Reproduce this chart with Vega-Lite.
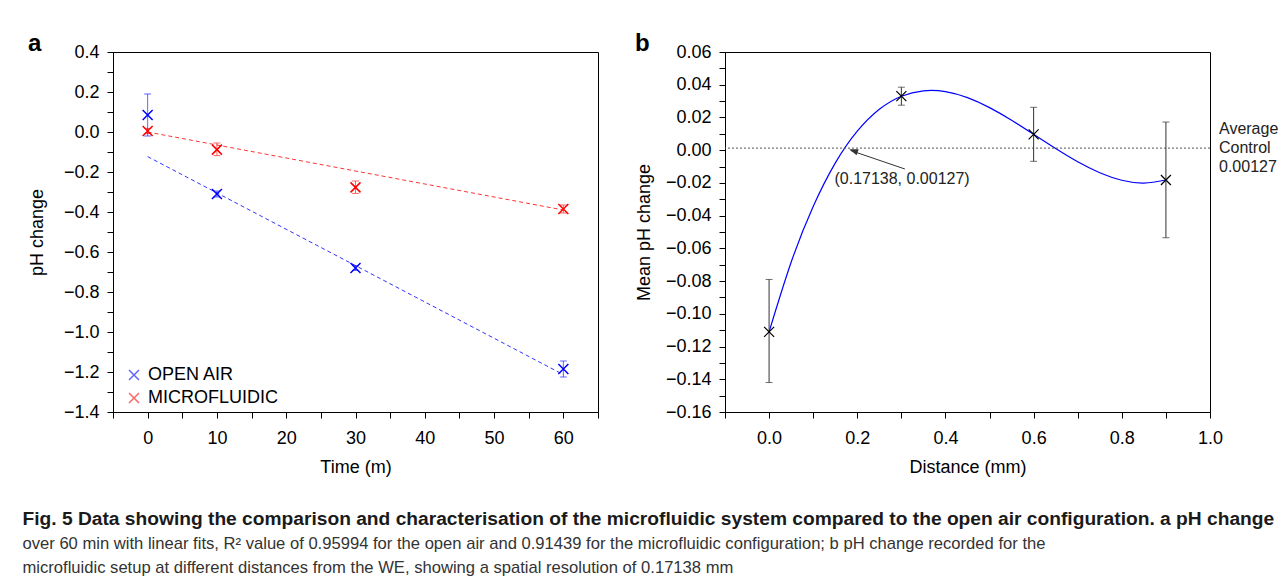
{
  "$schema": "https://vega.github.io/schema/vega-lite/v6.json",
  "padding": {"left": 22, "top": 31, "right": 0, "bottom": 0},
  "autosize": {"type": "pad"},
  "background": "white",
  "config": {
    "font": "Liberation Sans",
    "view": {"stroke": "black", "strokeWidth": 1},
    "axis": {
      "grid": false, "domainColor": "black", "tickColor": "black", "labelColor": "black", "titleColor": "black",
      "labelFont": "Liberation Sans", "titleFont": "Liberation Sans", "labelFontSize": 18, "titleFontSize": 18,
      "titleFontWeight": "normal", "tickSize": 6, "domainWidth": 1, "tickWidth": 1, "labelOverlap": false, "labelFlush": false, "tickCount": 100
    },
    "axisX": {"labelPadding": 11, "titlePadding": 11},
    "axisY": {"labelPadding": 8, "titlePadding": 12}
  },
  "title": {
    "text": "Fig. 5 Data showing the comparison and characterisation of the microfluidic system compared to the open air configuration. a pH change",
    "subtitle": [
      "over 60 min with linear fits, R² value of 0.95994 for the open air and 0.91439 for the microfluidic configuration; b pH change recorded for the",
      "microfluidic setup at different distances from the WE, showing a spatial resolution of 0.17138 mm"
    ],
    "orient": "bottom", "anchor": "start", "frame": "bounds", "offset": 33, "dx": -5,
    "font": "Liberation Sans", "fontSize": 19.2, "fontWeight": "bold", "color": "#1a1a1a", "lineHeight": 24,
    "subtitleFont": "Liberation Sans", "subtitleFontSize": 16.6, "subtitleFontWeight": "normal", "subtitleColor": "#333", "subtitleLineHeight": 24.5, "subtitlePadding": 7
  },
  "datasets": {
    "phTime": [
      {"series": "OPEN AIR", "t": 0, "ph": 0.085, "lo": -0.02, "hi": 0.19},
      {"series": "OPEN AIR", "t": 10, "ph": -0.31, "lo": -0.325, "hi": -0.295},
      {"series": "OPEN AIR", "t": 30, "ph": -0.68, "lo": -0.692, "hi": -0.668},
      {"series": "OPEN AIR", "t": 60, "ph": -1.185, "lo": -1.225, "hi": -1.145},
      {"series": "MICROFLUIDIC", "t": 0, "ph": 0.005, "lo": -0.008, "hi": 0.018},
      {"series": "MICROFLUIDIC", "t": 10, "ph": -0.088, "lo": -0.118, "hi": -0.055},
      {"series": "MICROFLUIDIC", "t": 30, "ph": -0.277, "lo": -0.307, "hi": -0.245},
      {"series": "MICROFLUIDIC", "t": 60, "ph": -0.385, "lo": -0.405, "hi": -0.365}
    ],
    "fitA": [
      {"series": "OPEN AIR", "t": 0, "ph": -0.123},
      {"series": "OPEN AIR", "t": 60, "ph": -1.213},
      {"series": "MICROFLUIDIC", "t": 0, "ph": 0.0},
      {"series": "MICROFLUIDIC", "t": 60, "ph": -0.39}
    ],
    "dist": [
      {"d": 0.0, "v": -0.111, "lo": -0.142, "hi": -0.079},
      {"d": 0.3, "v": 0.033, "lo": 0.0275, "hi": 0.0385},
      {"d": 0.6, "v": 0.0097, "lo": -0.0068, "hi": 0.0262},
      {"d": 0.9, "v": -0.0182, "lo": -0.0535, "hi": 0.0172}
    ],
    "curve": [
      {"d": 0.0, "v": -0.111},
      {"d": 0.05, "v": -0.0685},
      {"d": 0.1, "v": -0.0344},
      {"d": 0.15, "v": -0.0079},
      {"d": 0.2, "v": 0.0116},
      {"d": 0.25, "v": 0.025},
      {"d": 0.3, "v": 0.033},
      {"d": 0.35, "v": 0.0363},
      {"d": 0.4, "v": 0.0358},
      {"d": 0.45, "v": 0.0321},
      {"d": 0.5, "v": 0.026},
      {"d": 0.55, "v": 0.0183},
      {"d": 0.6, "v": 0.0097},
      {"d": 0.65, "v": 0.001},
      {"d": 0.7, "v": -0.0071},
      {"d": 0.75, "v": -0.0138},
      {"d": 0.8, "v": -0.0184},
      {"d": 0.85, "v": -0.0201},
      {"d": 0.9, "v": -0.0182}
    ]
  },
  "spacing": 35,
  "hconcat": [
    {
      "width": 485, "height": 360,
      "title": {"text": "a", "anchor": "start", "frame": "group", "fontSize": 24, "fontWeight": "bold", "color": "black", "offset": -13, "dx": -85, "font": "Liberation Sans"},
      "layer": [
        {
          "data": {"name": "fitA"},
          "mark": {"type": "line", "strokeDash": [4, 3], "strokeWidth": 1, "opacity": 0.8},
          "encoding": {
            "x": {"field": "t", "type": "quantitative", "title": "Time (m)", "scale": {"domain": [-5, 65], "nice": false, "zero": false},
              "axis": {"labelOverlap": false, "tickCount": 100, "format": "d", "values": [-5, 0, 5, 10, 15, 20, 25, 30, 35, 40, 45, 50, 55, 60, 65], "labelExpr": "datum.value % 10 == 0 ? datum.label : ''"}},
            "y": {"field": "ph", "type": "quantitative", "title": "pH change", "scale": {"domain": [-1.4, 0.4], "nice": false, "zero": false},
              "axis": {"labelOverlap": false, "tickCount": 100, "titlePadding": 17, "format": ".1f", "values": [-1.4, -1.3, -1.2, -1.1, -1.0, -0.9, -0.8, -0.7, -0.6, -0.5, -0.4, -0.3, -0.2, -0.1, 0, 0.1, 0.2, 0.3, 0.4], "labelExpr": "abs(round(datum.value * 10)) % 2 == 0 ? datum.label : ''"}},
            "color": {"field": "series", "type": "nominal", "scale": {"domain": ["OPEN AIR", "MICROFLUIDIC"], "range": ["#0000ff", "#ff0000"]},
              "legend": {"title": null, "orient": "none", "legendX": 12, "legendY": 314, "symbolType": "M-1,-1L1,1M1,-1L-1,1", "symbolSize": 100, "symbolStrokeWidth": 1.5, "symbolDash": [], "symbolOpacity": 1, "labelFontSize": 18, "labelFont": "Liberation Sans", "labelColor": "black", "rowPadding": 5, "labelOffset": 5}}
          }
        },
        {
          "data": {"name": "phTime"},
          "mark": {"type": "errorbar", "ticks": {"size": 7}, "opacity": 0.6},
          "encoding": {
            "x": {"field": "t", "type": "quantitative", "title": "Time (m)"},
            "y": {"field": "lo", "type": "quantitative", "title": "pH change"},
            "y2": {"field": "hi"},
            "color": {"field": "series", "type": "nominal"}
          }
        },
        {
          "data": {"name": "phTime"},
          "mark": {"type": "point", "shape": "M-1,-1L1,1M1,-1L-1,1", "filled": false, "size": 100, "strokeWidth": 1.5, "opacity": 1},
          "encoding": {
            "x": {"field": "t", "type": "quantitative", "title": "Time (m)"},
            "y": {"field": "ph", "type": "quantitative", "title": "pH change"},
            "color": {"field": "series", "type": "nominal"}
          }
        }
      ]
    },
    {
      "width": 485, "height": 360,
      "title": {"text": "b", "anchor": "start", "frame": "group", "fontSize": 24, "fontWeight": "bold", "color": "black", "offset": -13, "dx": -90, "font": "Liberation Sans"},
      "layer": [
        {
          "data": {"name": "curve"},
          "mark": {"type": "line", "color": "#0000ff", "strokeWidth": 1.2, "interpolate": "natural"},
          "encoding": {
            "x": {"field": "d", "type": "quantitative", "title": "Distance (mm)", "scale": {"domain": [-0.1, 1.0], "nice": false, "zero": false},
              "axis": {"labelOverlap": false, "tickCount": 100, "format": ".1f", "values": [-0.1, 0, 0.1, 0.2, 0.3, 0.4, 0.5, 0.6, 0.7, 0.8, 0.9, 1.0], "labelExpr": "datum.value > -0.05 && abs(round(datum.value * 10)) % 2 == 0 ? datum.label : ''"}},
            "y": {"field": "v", "type": "quantitative", "title": "Mean pH change", "scale": {"domain": [-0.16, 0.06], "nice": false, "zero": false},
              "axis": {"labelOverlap": false, "tickCount": 100, "format": ".2f", "values": [-0.16, -0.15, -0.14, -0.13, -0.12, -0.11, -0.1, -0.09, -0.08, -0.07, -0.06, -0.05, -0.04, -0.03, -0.02, -0.01, 0, 0.01, 0.02, 0.03, 0.04, 0.05, 0.06], "labelExpr": "abs(round(datum.value * 100)) % 2 == 0 ? datum.label : ''"}}
          }
        },
        {
          "data": {"values": [{}]},
          "mark": {"type": "rule", "strokeDash": [2, 2], "color": "#555", "strokeWidth": 1},
          "encoding": {"y": {"datum": 0.00127, "type": "quantitative", "title": "Mean pH change"}}
        },
        {
          "data": {"name": "dist"},
          "mark": {"type": "errorbar", "color": "#333", "ticks": {"size": 7}},
          "encoding": {
            "x": {"field": "d", "type": "quantitative", "title": "Distance (mm)"},
            "y": {"field": "lo", "type": "quantitative", "title": "Mean pH change"},
            "y2": {"field": "hi"}
          }
        },
        {
          "data": {"name": "dist"},
          "mark": {"type": "point", "shape": "M-1,-1L1,1M1,-1L-1,1", "filled": false, "size": 100, "strokeWidth": 1.2, "color": "black", "opacity": 1},
          "encoding": {
            "x": {"field": "d", "type": "quantitative", "title": "Distance (mm)"},
            "y": {"field": "v", "type": "quantitative", "title": "Mean pH change"}
          }
        },
        {
          "data": {"values": [{}]},
          "mark": {"type": "rule", "color": "#333", "strokeWidth": 1},
          "encoding": {
            "x": {"datum": 0.308, "type": "quantitative", "title": "Distance (mm)"}, "y": {"datum": -0.0115, "type": "quantitative", "title": "Mean pH change"},
            "x2": {"datum": 0.185}, "y2": {"datum": -0.0002}
          }
        },
        {
          "data": {"values": [{}]},
          "mark": {"type": "point", "shape": "M0,0L0.8,2.2L-0.8,2.2Z", "filled": true, "color": "#333", "size": 64, "angle": 289.5, "opacity": 1},
          "encoding": {"x": {"datum": 0.182, "type": "quantitative", "title": "Distance (mm)"}, "y": {"datum": 0.0005, "type": "quantitative", "title": "Mean pH change"}}
        },
        {
          "data": {"values": [{}]},
          "mark": {"type": "text", "text": "(0.17138, 0.00127)", "fontSize": 16, "color": "#222", "font": "Liberation Sans"},
          "encoding": {"x": {"datum": 0.3016, "type": "quantitative", "title": "Distance (mm)"}, "y": {"datum": -0.0176, "type": "quantitative", "title": "Mean pH change"}}
        },
        {
          "data": {"values": [{}]},
          "mark": {"type": "text", "text": ["Average", "Control", "0.00127"], "align": "left", "baseline": "middle", "dx": 9, "dy": -19, "fontSize": 16, "lineHeight": 19, "color": "#222", "font": "Liberation Sans"},
          "encoding": {"x": {"datum": 1.0, "type": "quantitative", "title": "Distance (mm)"}, "y": {"datum": 0.00127, "type": "quantitative", "title": "Mean pH change"}}
        }
      ]
    }
  ]
}
